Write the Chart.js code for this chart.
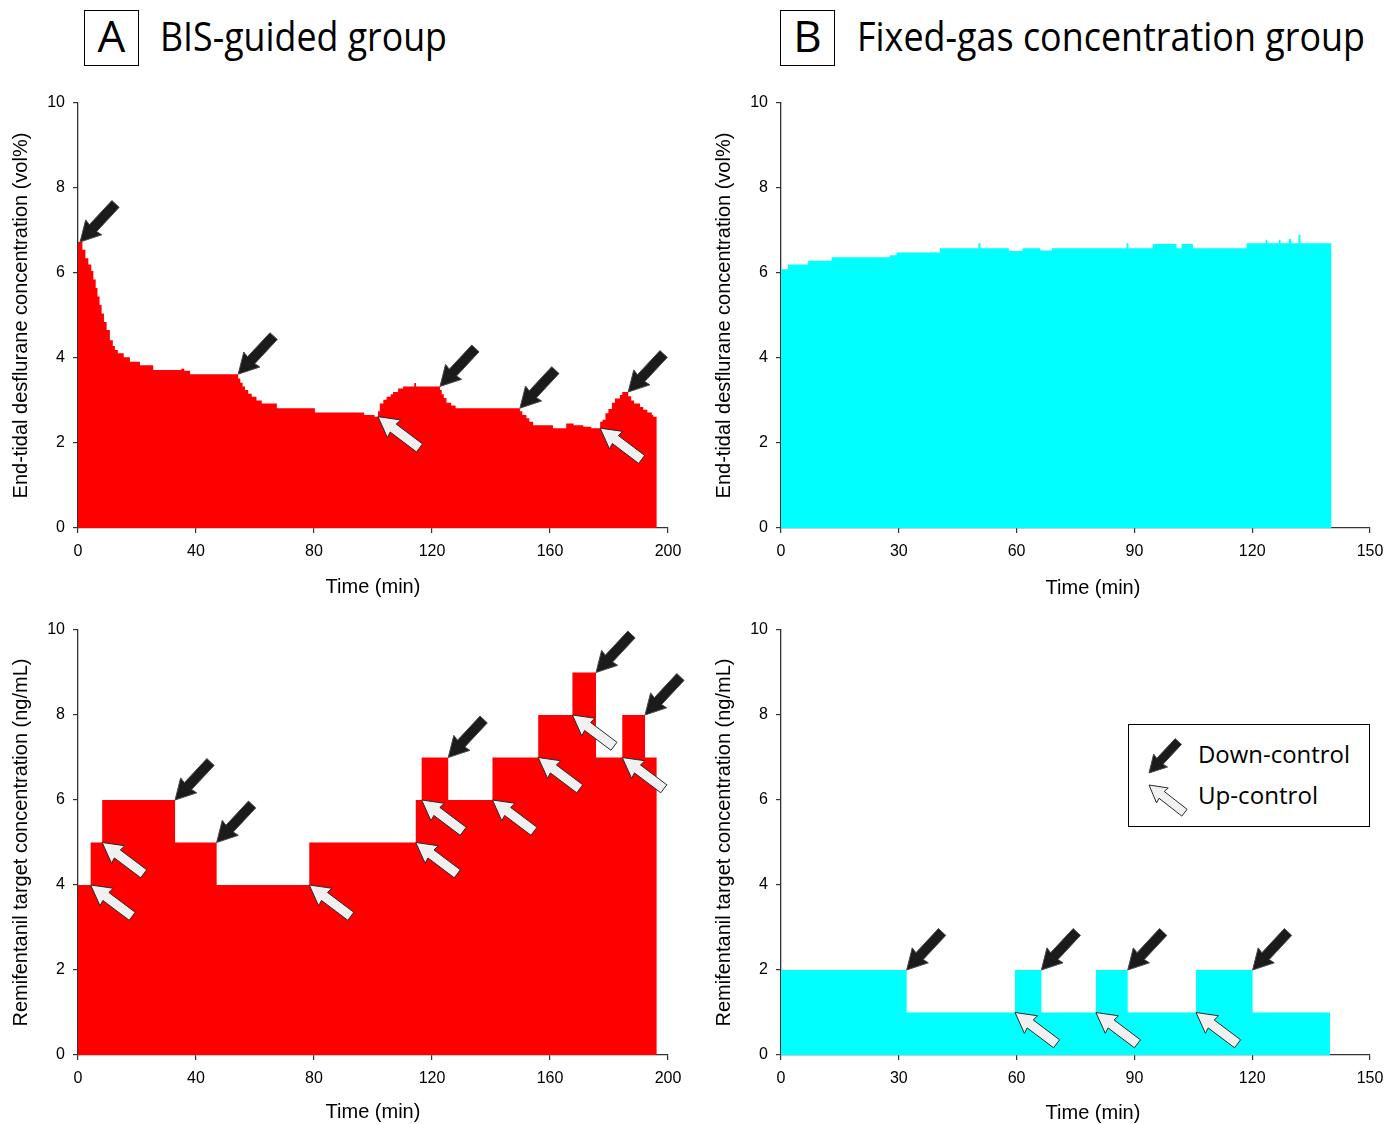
<!DOCTYPE html>
<html>
<head>
<meta charset="utf-8">
<title>BIS-guided vs fixed-gas concentration</title>
<style>
	body { margin: 0; background: #fff; width: 1399px; height: 1124px; overflow: hidden; position: relative; }
	.panel { position: absolute; }
	.tag { position: absolute; top: 10px; width: 55px; height: 56px; box-sizing: border-box; border: 1.5px solid #000; }
	.tag span { position: absolute; left: 0; right: 0; top: 2px; text-align: center; font-family: "Open Sans"; font-size: 44px; line-height: 44px; color: #000; }
	.heading { position: absolute; top: 15px; font-family: "Open Sans"; font-size: 41px; line-height: 41px; white-space: nowrap; transform-origin: left top; color: #000; }
	.xlab { position: absolute; left: 1093px; transform: translateX(-50%); font-family: "Liberation Sans"; font-size: 20px; line-height: 24px; white-space: nowrap; color: #000; }
	.legend { position: absolute; left: 1128px; top: 724px; width: 242px; height: 103px; box-sizing: border-box; border: 1.5px solid #000; background: #fff; }
	.legend span { position: absolute; left: 68.5px; font-family: "Open Sans"; font-size: 24px; line-height: 24px; white-space: nowrap; color: #000; transform-origin: left top; }
	.legend svg { position: absolute; left: 0; top: 0; }
</style>
</head>
<body>
	<div class="tag" style="left:84px"><span>A</span></div>
	<div class="heading" id="headA" style="left:160px">BIS-guided group</div>
	<div class="tag" style="left:780px"><span>B</span></div>
	<div class="heading" id="headB" style="left:857px">Fixed-gas concentration group</div>

	<canvas class="panel" id="desBis" width="700" height="509" style="left:0;top:90px"></canvas>
	<canvas class="panel" id="desFixed" width="699" height="509" style="left:700px;top:90px"></canvas>
	<canvas class="panel" id="remiBis" width="700" height="507" style="left:0;top:617px"></canvas>
	<canvas class="panel" id="remiFixed" width="699" height="507" style="left:700px;top:617px"></canvas>

	<div class="xlab" style="top:575px">Time (min)</div>
	<div class="xlab" style="top:1100px">Time (min)</div>

	<div class="legend">
		<svg width="240" height="100" id="legendIcons"></svg>
		<span id="legDown" style="top:16.8px">Down-control</span>
		<span id="legUp" style="top:57.8px">Up-control</span>
	</div>

	<script src="https://cdn.jsdelivr.net/npm/chart.js@4.4.0/dist/chart.umd.min.js"></script>
	<script type="text/javascript">
		// A, top: end-tidal desflurane (vol%), BIS-guided group
		const bisDesTime = [0, 1.5, 2.5, 3.5, 4.5, 5.2, 6, 6.6, 7.3, 8, 8.8, 9.7, 10.8, 11.8, 12.5, 13.5, 15.5, 17.6, 21, 25.5, 35, 36, 38,
			54.3, 55, 55.8, 56.6, 57.7, 58.9, 60.5, 62.3, 67.4, 80.3, 97, 100.5,
			101.7, 102.3, 103.5, 104.6, 106, 106.8, 108.5, 110.2, 114, 114.6, 122.7, 123.3, 124, 124.9, 126.5, 128, 129.5,
			149.8, 150.6, 152, 153, 154.3, 161, 165.5, 168, 171.3, 174, 177,
			177.8, 178.8, 179.8, 181, 182, 183.7, 184.5, 186.5, 187.5, 188.5, 190.5, 191.6, 193, 194.5, 195, 196.2];
		const bisDesValue = [6.73, 6.55, 6.35, 6.2, 6.05, 5.85, 5.65, 5.45, 5.25, 5.05, 4.85, 4.66, 4.42, 4.28, 4.19, 4.11, 4.02, 3.91, 3.83, 3.72, 3.75, 3.7, 3.62,
			3.52, 3.42, 3.33, 3.25, 3.16, 3.09, 3.0, 2.93, 2.82, 2.72, 2.66, 2.62,
			2.75, 2.93, 3.02, 3.09, 3.15, 3.2, 3.28, 3.33, 3.41, 3.33, 3.25, 3.15, 3.06, 2.95, 2.88, 2.82, 2.82,
			2.75, 2.66, 2.58, 2.5, 2.42, 2.35, 2.46, 2.42, 2.38, 2.35, 2.5,
			2.55, 2.7, 2.8, 2.95, 3.05, 3.13, 3.2, 3.1, 3.0, 2.93, 2.85, 2.78, 2.72, 2.66, 2.62, 2.62];
		const bisDesDownT = [0.7, 54.3, 122.7, 149.8, 186.5];
		const bisDesDownV = [6.73, 3.62, 3.33, 2.82, 3.2];
		const bisDesUpT = [101.7, 177];
		const bisDesUpV = [2.62, 2.35];

		// B, top: end-tidal desflurane (vol%), fixed-gas group
		const fixedDesTime = [0, 1.8, 6.9, 12.9, 27.7, 29.4, 40.5, 50.3, 50.8, 58, 61.5, 66, 69, 88, 88.5, 94.7, 100.7, 102, 104.9,
			118.6, 123.4, 123.8, 126.8, 127.2, 129.3, 129.9, 131.8, 132.3, 140.2];
		const fixedDesValue = [6.09, 6.2, 6.29, 6.37, 6.42, 6.48, 6.58, 6.7, 6.58, 6.52, 6.58, 6.53, 6.58, 6.7, 6.58, 6.68, 6.58, 6.68, 6.58,
			6.7, 6.78, 6.7, 6.78, 6.7, 6.8, 6.7, 6.9, 6.7, 6.7];

		// A, bottom: remifentanil target (ng/mL), BIS-guided group
		const bisRemiTime = [0, 4.3, 8.2, 32.9, 47, 78.4, 114.5, 116.5, 125.5, 140.5, 156, 167.6, 175.6, 184.5, 192.2, 196.2];
		const bisRemiValue = [4, 5, 6, 5, 4, 5, 6, 7, 6, 7, 8, 9, 7, 8, 7, 7];
		const bisRemiDownT = [32.9, 47, 125.5, 175.6, 192.2];
		const bisRemiDownV = [6, 5, 7, 9, 8];
		const bisRemiUpT = [4.3, 8.2, 78.4, 114.5, 116.5, 140.5, 156, 167.6, 184.5];
		const bisRemiUpV = [4, 5, 4, 5, 6, 6, 7, 8, 7];

		// B, bottom: remifentanil target (ng/mL), fixed-gas group
		const fixedRemiTime = [0, 32, 59.6, 66.3, 80.2, 88.3, 105.7, 120.1, 139.8];
		const fixedRemiValue = [2, 1, 2, 1, 2, 1, 2, 1, 1];
		const fixedRemiDownT = [32, 66.3, 88.3, 120.1];
		const fixedRemiDownV = [2, 2, 2, 2];
		const fixedRemiUpT = [59.6, 80.2, 105.7];
		const fixedRemiUpV = [1, 1, 1];

		const RED = '#ff0000';
		const CYAN = '#00ffff';

		// arrow outline: tip at (tx,ty), tail toward angle (deg, screen coords)
		function arrowPoints(tx, ty, angle, L, H, hw, sw) {
			const a = angle * Math.PI / 180;
			const ux = Math.cos(a), uy = Math.sin(a);
			const px = -uy, py = ux;
			const local = [[0, 0], [H, hw], [H - 1, sw], [L, sw], [L, -sw], [H - 1, -sw], [H, -hw]];
			return local.map(p => [tx + ux * p[0] + px * p[1], ty + uy * p[0] + py * p[1]]);
		}

		function drawArrow(ctx, pts, fill, stroke) {
			ctx.beginPath();
			pts.forEach((p, i) => i ? ctx.lineTo(p[0], p[1]) : ctx.moveTo(p[0], p[1]));
			ctx.closePath();
			ctx.fillStyle = fill;
			ctx.fill();
			ctx.lineWidth = 1;
			ctx.strokeStyle = stroke;
			ctx.stroke();
		}

		function arrowMarks(downT, downV, upT, upV) {
			return {
				id: 'controlArrows',
				afterDatasetsDraw(chart) {
					const ctx = chart.ctx;
					const x = chart.scales.x, y = chart.scales.y;
					ctx.save();
					ctx.lineJoin = 'miter';
					for (let i = 0; i < downT.length; i++) {
						drawArrow(ctx, arrowPoints(x.getPixelForValue(downT[i]), y.getPixelForValue(downV[i]), -47, 52, 20, 11, 5), '#1b1b1b', '#4a4a4a');
					}
					for (let i = 0; i < upT.length; i++) {
						drawArrow(ctx, arrowPoints(x.getPixelForValue(upT[i]), y.getPixelForValue(upV[i]), 37, 52, 20, 11, 5), '#f0f0f0', '#2a2a2a');
					}
					ctx.restore();
				}
			};
		}

		const tickFont = { family: 'Liberation Sans', size: 16 };
		const titleFont = { family: 'Liberation Sans', size: 20 };

		function buildChart(id, o) {
			return new Chart(document.getElementById(id), {
				type: 'line',
				data: {
					datasets: [{
						data: o.time.map((t, i) => ({ x: t, y: o.value[i] })),
						stepped: 'before',
						fill: 'origin',
						backgroundColor: o.color,
						borderColor: o.color,
						borderWidth: 0,
						pointRadius: 0
					}]
				},
				options: {
					responsive: false,
					animation: false,
					devicePixelRatio: 1,
					layout: { padding: { left: 0, right: o.padRight, top: 13, bottom: 0 } },
					plugins: { legend: { display: false }, tooltip: { enabled: false } },
					scales: {
						x: {
							type: 'linear', min: 0, max: o.xMax,
							ticks: { stepSize: o.xStep, padding: 9, color: '#000', font: tickFont, maxRotation: 0 },
							grid: { drawOnChartArea: false, tickLength: 5, color: '#333', lineWidth: 1.2 },
							border: { color: '#333', width: 1.3 },
							title: { display: o.xTitle, text: 'Time (min)', color: '#000', font: titleFont, padding: 0 },
							afterFit: s => { s.height = o.xHeight; s.paddingLeft = 0; s.paddingRight = 0; }
						},
						y: {
							min: 0, max: 10,
							ticks: { stepSize: 2, padding: 8, color: '#000', font: tickFont },
							grid: { drawOnChartArea: false, tickLength: 5, color: '#333', lineWidth: 1.2 },
							border: { color: '#333', width: 1.3 },
							title: { display: true, text: o.yTitle, color: '#000', font: titleFont, padding: { top: o.yTitlePad, bottom: 0 } },
							afterFit: s => { s.width = o.yWidth; s.paddingTop = 0; s.paddingBottom = 0; }
						}
					}
				},
				plugins: [arrowMarks(o.downT, o.downV, o.upT, o.upV)]
			});
		}

		const desTitle = 'End-tidal desflurane concentration (vol%)';
		const remiTitle = 'Remifentanil target concentration (ng/mL)';

		// right-hand panels carry their "Time (min)" label as page text (it sits off-centre)
		buildChart('desBis', { time: bisDesTime, value: bisDesValue, color: RED, xMax: 200, xStep: 40, yTitle: desTitle, xHeight: 71, xTitle: true,
			yWidth: 78, yTitlePad: 9, padRight: 32, downT: bisDesDownT, downV: bisDesDownV, upT: bisDesUpT, upV: bisDesUpV });
		buildChart('desFixed', { time: fixedDesTime, value: fixedDesValue, color: CYAN, xMax: 150, xStep: 30, yTitle: desTitle, xHeight: 71, xTitle: false,
			yWidth: 81, yTitlePad: 12, padRight: 29, downT: [], downV: [], upT: [], upV: [] });
		buildChart('remiBis', { time: bisRemiTime, value: bisRemiValue, color: RED, xMax: 200, xStep: 40, yTitle: remiTitle, xHeight: 69, xTitle: true,
			yWidth: 78, yTitlePad: 9, padRight: 32, downT: bisRemiDownT, downV: bisRemiDownV, upT: bisRemiUpT, upV: bisRemiUpV });
		buildChart('remiFixed', { time: fixedRemiTime, value: fixedRemiValue, color: CYAN, xMax: 150, xStep: 30, yTitle: remiTitle, xHeight: 69, xTitle: false,
			yWidth: 81, yTitlePad: 12, padRight: 29, downT: fixedRemiDownT, downV: fixedRemiDownV, upT: fixedRemiUpT, upV: fixedRemiUpV });

		// legend icons
		const svg = document.getElementById('legendIcons');
		function svgArrow(pts, fill, stroke) {
			const poly = document.createElementNS('http://www.w3.org/2000/svg', 'polygon');
			poly.setAttribute('points', pts.map(p => p.join(',')).join(' '));
			poly.setAttribute('fill', fill);
			poly.setAttribute('stroke', stroke);
			poly.setAttribute('stroke-width', '1');
			svg.appendChild(poly);
		}
		svgArrow(arrowPoints(20, 48, -47, 43, 17, 9.5, 4.3), '#1b1b1b', '#4a4a4a');
		svgArrow(arrowPoints(20, 60, 38, 45, 17, 9.5, 4.3), '#f0f0f0', '#2a2a2a');

		function fitWidth(id, w) {
			const el = document.getElementById(id);
			const s = w / el.getBoundingClientRect().width;
			el.style.transform = 'scaleX(' + s + ')';
		}
		fitWidth('headA', 287);
		fitWidth('headB', 508);
		fitWidth('legDown', 152);
		fitWidth('legUp', 120);
	</script>
</body>
</html>
